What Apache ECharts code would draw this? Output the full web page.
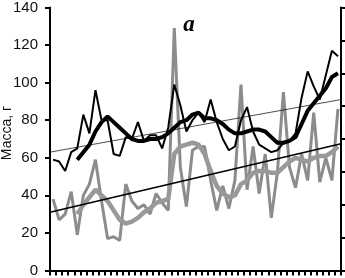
<!DOCTYPE html>
<html><head><meta charset="utf-8">
<script src="https://cdn.jsdelivr.net/npm/echarts@6/dist/echarts.min.js"></script>
<style>html,body{margin:0;padding:0;background:#fff}#c{width:345px;height:278px}</style>
</head><body><div id="c"></div>
<script>
const categories = ['1','2','3','4','5','6','7','8','9','10','11','12','13','14','15','16','17','18','19','20','21','22','23','24','25','26','27','28','29','30','31','32','33','34','35','36','37','38','39','40','41','42','43','44','45','46','47','48'];
const blackThin = [59,58,53,63,65,83,73,96,80,80,62,61,71,70,79,69,72,72,65,76,99,88,74,80,84,79,91,79,70,64,66,80,87,74,67,65,63,64,68,69,73,92,106,98,91,104,117,114];
const blackAvg = [null,null,null,null,59,63,67,74,79,82,79,76,73,70,69,69,70,70,71,73,76,79,80,83,84,81,81,80,78,75,73,73,74,75,75,74,71,68,68,69,71,78,85,89,93,97,103,105];
const grayThin = [38,27,30,42,19,40,46,59,37,17,18,16,46,37,33,35,30,41,36,32,129,55,34,64,66,66,48,32,45,33,48,99,43,66,41,62,28,52,95,55,44,62,48,84,47,60,48,86];
const grayAvg = [null,null,null,null,30,35,39,43,40,37,32,27,25,26,28,31,33,36,37,38,62,66,67,68,67,62,53,45,41,39,40,46,48,52,53,53,52,52,55,58,60,59,58,60,61,61,63,66];
const trendGrayEnds = [31, 67.5];
const trendBlackEnds = [63, 91];
const leftTicks = [0,20,40,60,80,100,120,140];

const chart = echarts.init(document.getElementById('c'), null, {renderer:'canvas'});
chart.setOption({
  animation:false,
  grid:{left:50,right:4,top:5,bottom:6,containLabel:false},
  xAxis:[
    {type:'category',data:categories,boundaryGap:true,
     axisLine:{lineStyle:{color:'#000',width:2}},
     axisTick:{show:true,interval:0,length:5,inside:false,lineStyle:{color:'#000',width:2}},
     axisLabel:{show:false},splitLine:{show:false}},
    {type:'value',min:0,max:1,show:false}
  ],
  yAxis:[
    {type:'value',min:leftTicks[0],max:leftTicks[leftTicks.length-1],interval:20,position:'left',
     axisLine:{show:true,lineStyle:{color:'#000',width:2}},
     axisTick:{show:true,length:5,lineStyle:{color:'#000',width:2}},
     axisLabel:{show:true,fontSize:15,color:'#111',fontFamily:'Liberation Sans',margin:12},
     splitLine:{show:false}},
    {type:'value',min:0,max:8,interval:1,position:'right',
     axisLine:{show:true,lineStyle:{color:'#000',width:2}},
     axisTick:{show:true,length:5,lineStyle:{color:'#000',width:2}},
     axisLabel:{show:false},splitLine:{show:false}}
  ],
  graphic:[
    {type:'text',x:7,y:133,rotation:Math.PI/2,style:{text:'Масса, г',fontSize:14,fontFamily:'Liberation Sans',fill:'#111',align:'center',verticalAlign:'middle'}},
    {type:'text',x:189,y:25,style:{text:'a',fontSize:23,fontFamily:'Liberation Serif',fontWeight:'bold',fontStyle:'italic',fill:'#000',align:'center',verticalAlign:'middle'}}
  ],
  series:[
    {type:'line',data:grayThin,symbol:'none',lineStyle:{color:'#8c8c8c',width:3},z:2},
    {type:'line',data:grayAvg,symbol:'none',lineStyle:{color:'#999999',width:4.5},z:3},
    {type:'line',data:blackThin,symbol:'none',lineStyle:{color:'#000',width:2},z:4},
    {type:'line',data:blackAvg,symbol:'none',lineStyle:{color:'#000',width:4},z:5},
    {type:'line',xAxisIndex:1,data:[[0,trendGrayEnds[0]],[1,trendGrayEnds[1]]],symbol:'none',lineStyle:{color:'#000',width:1.5},z:6},
    {type:'line',xAxisIndex:1,data:[[0,trendBlackEnds[0]],[1,trendBlackEnds[1]]],symbol:'none',lineStyle:{color:'#000',width:0.7},z:6}
  ]
});
</script></body></html>
